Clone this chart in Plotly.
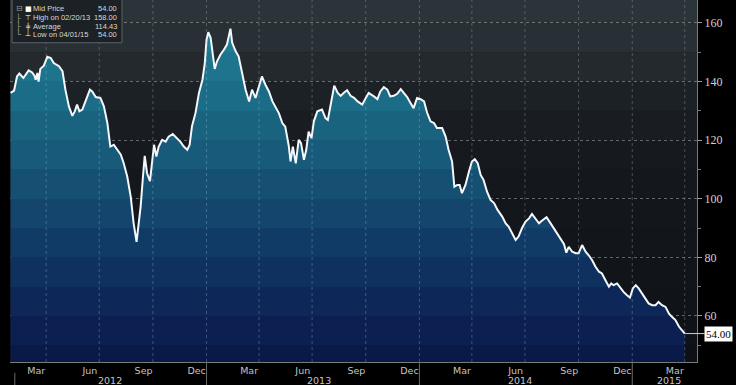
import plotly.graph_objects as go

# ---------------- data ----------------
dates = [
    "2012-01-31", "2012-02-06", "2012-02-11", "2012-02-15", "2012-02-22", "2012-03-02", "2012-03-08",
    "2012-03-12", "2012-03-14", "2012-03-17", "2012-03-19", "2012-03-22", "2012-03-28", "2012-04-03",
    "2012-04-09", "2012-04-14", "2012-04-23", "2012-04-29", "2012-05-04", "2012-05-10", "2012-05-16",
    "2012-05-20", "2012-05-24", "2012-05-28", "2012-06-02", "2012-06-08", "2012-06-15", "2012-06-19",
    "2012-06-25", "2012-07-03", "2012-07-09", "2012-07-15", "2012-07-20", "2012-07-26", "2012-08-01",
    "2012-08-07", "2012-08-12", "2012-08-18", "2012-08-24", "2012-08-29", "2012-09-03", "2012-09-07",
    "2012-09-10", "2012-09-14", "2012-09-17", "2012-09-21", "2012-09-26", "2012-10-03", "2012-10-07",
    "2012-10-11", "2012-10-17", "2012-10-23", "2012-10-28", "2012-11-04", "2012-11-12", "2012-11-17",
    "2012-11-23", "2012-11-29", "2012-12-03", "2012-12-07", "2012-12-13", "2012-12-19", "2012-12-25",
    "2012-12-29", "2013-01-01", "2013-01-04", "2013-01-08", "2013-01-12", "2013-01-15", "2013-01-19",
    "2013-01-25", "2013-01-31", "2013-02-05", "2013-02-11", "2013-02-14", "2013-02-20", "2013-02-25",
    "2013-03-03", "2013-03-09", "2013-03-15", "2013-03-20", "2013-03-26", "2013-04-01", "2013-04-06",
    "2013-04-12", "2013-04-18", "2013-04-24", "2013-04-29", "2013-05-05", "2013-05-11", "2013-05-16",
    "2013-05-22", "2013-05-25", "2013-05-29", "2013-06-03", "2013-06-08", "2013-06-12", "2013-06-17",
    "2013-06-21", "2013-06-25", "2013-06-30", "2013-07-04", "2013-07-10", "2013-07-18", "2013-07-24",
    "2013-07-28", "2013-08-03", "2013-08-08", "2013-08-14", "2013-08-19", "2013-08-24", "2013-08-30",
    "2013-09-05", "2013-09-11", "2013-09-17", "2013-09-25", "2013-10-01", "2013-10-06", "2013-10-15",
    "2013-10-21", "2013-10-26", "2013-11-01", "2013-11-07", "2013-11-12", "2013-11-18", "2013-11-24",
    "2013-11-30", "2013-12-05", "2013-12-11", "2013-12-17", "2013-12-22", "2013-12-28", "2014-01-03",
    "2014-01-09", "2014-01-14", "2014-01-20", "2014-01-26", "2014-01-31", "2014-02-09", "2014-02-15",
    "2014-02-20", "2014-02-26", "2014-03-02", "2014-03-07", "2014-03-11", "2014-03-15", "2014-03-21",
    "2014-03-27", "2014-04-01", "2014-04-06", "2014-04-11", "2014-04-16", "2014-04-21", "2014-04-27",
    "2014-05-03", "2014-05-09", "2014-05-15", "2014-05-23", "2014-05-29", "2014-06-03", "2014-06-09",
    "2014-06-15", "2014-06-20", "2014-06-26", "2014-07-02", "2014-07-08", "2014-07-13", "2014-07-19",
    "2014-07-25", "2014-07-30", "2014-08-07", "2014-08-14", "2014-08-19", "2014-08-25", "2014-08-31",
    "2014-09-06", "2014-09-10", "2014-09-14", "2014-09-20", "2014-09-26", "2014-10-01", "2014-10-07",
    "2014-10-13", "2014-10-18", "2014-10-24", "2014-10-30", "2014-11-05", "2014-11-10", "2014-11-16",
    "2014-11-22", "2014-11-26", "2014-11-30", "2014-12-06", "2014-12-12", "2014-12-17", "2014-12-23",
    "2014-12-28", "2015-01-02", "2015-01-07", "2015-01-12", "2015-01-18", "2015-01-24", "2015-01-29",
    "2015-02-04", "2015-02-10", "2015-02-15", "2015-02-21", "2015-02-27", "2015-03-05", "2015-03-10",
    "2015-03-16", "2015-03-22", "2015-03-27", "2015-04-01",
]
prices = [
    136.1, 136.9, 141.7, 142.7, 141.2, 143.8, 143.1,
    142.0, 140.6, 142.9, 140.0, 144.3, 145.4, 148.4,
    148.0, 146.3, 145.2, 143.5, 137.2, 131.5, 128.3,
    129.8, 132.1, 129.8, 130.4, 133.8, 137.2, 136.6,
    134.7, 134.4, 131.5, 125.8, 117.8, 118.4, 116.7,
    115.0, 112.1, 107.6, 100.7, 91.6, 85.3, 92.8,
    97.3, 107.6, 114.6, 108.7, 106.0, 118.4, 114.4,
    117.8, 120.1, 119.5, 121.2, 122.1, 120.7, 119.5,
    117.8, 116.7, 118.4, 124.7, 129.2, 136.1, 140.6,
    146.3, 154.3, 156.8, 154.9, 147.5, 144.3, 146.9,
    149.2, 150.9, 152.6, 158.0, 153.2, 150.3, 148.6,
    142.9, 137.2, 133.2, 137.2, 134.4, 138.9, 141.7,
    138.9, 136.6, 133.2, 131.5, 129.2, 125.8, 124.6,
    118.0, 112.7, 117.8, 112.1, 120.1, 119.0, 113.3,
    116.7, 122.9, 120.7, 126.4, 129.8, 130.4, 127.5,
    126.9, 133.8, 138.6, 136.1, 135.1, 136.1, 137.0,
    135.1, 134.4, 133.2, 132.1, 134.4, 136.1, 134.9,
    134.0, 136.6, 138.1, 137.2, 134.9, 135.1, 135.8,
    137.4, 136.1, 134.7, 132.6, 130.9, 134.4, 134.0,
    133.2, 129.5, 126.4, 125.8, 124.1, 124.1, 121.2,
    116.7, 112.7, 104.1, 104.7, 104.7, 101.9, 104.7,
    109.3, 112.7, 113.5, 112.1, 108.1, 106.4, 102.4,
    99.6, 98.5, 96.2, 93.9, 91.6, 90.5, 88.2,
    85.9, 87.1, 90.0, 92.2, 93.3, 94.8, 93.3,
    91.6, 92.5, 93.7, 91.6, 90.0, 88.2, 86.5,
    84.5, 81.6, 83.6, 81.9, 81.4, 81.4, 84.2,
    81.9, 80.8, 79.1, 76.8, 75.1, 74.5, 72.2,
    70.0, 71.1, 70.5, 71.1, 69.4, 68.2, 67.1,
    66.3, 69.4, 70.5, 69.4, 67.7, 66.0, 64.3,
    63.7, 63.7, 64.8, 63.7, 63.1, 60.8, 59.7,
    58.6, 56.4, 55.0, 54.0,
]

legend_labels = ["Mid Price", "High on 02/20/13", "Average", "Low on 04/01/15"]
legend_values = ["54.00", "158.00", "114.43", "54.00"]
last_label = "54.00"

y_ticks = [60, 80, 100, 120, 140, 160]
y_minor_ticks = [50, 70, 90, 110, 130, 150]
x_tick_dates = ["2012-03-15", "2012-06-15", "2012-09-15", "2012-12-15",
                "2013-03-15", "2013-06-15", "2013-09-15", "2013-12-15",
                "2014-03-15", "2014-06-15", "2014-09-15", "2014-12-15",
                "2015-03-15"]
x_tick_text = ["Mar", "Jun", "Sep", "Dec"] * 3 + ["Mar"]
quarter_starts = ["2012-04-01", "2012-07-01", "2012-10-01", "2013-01-01",
                  "2013-04-01", "2013-07-01", "2013-10-01", "2014-01-01",
                  "2014-04-01", "2014-07-01", "2014-10-01", "2015-01-01",
                  "2015-04-01"]
year_labels = ["2012", "2013", "2014", "2015"]
year_label_dates = ["2012-07-20", "2013-07-12", "2014-06-23", "2015-03-05"]
year_starts = ["2013-01-01", "2014-01-01", "2015-01-01"]

# ---------------- style ----------------
Y0, Y1 = 44.3, 167.8
X0, X1 = "2012-01-30", "2015-04-22"

band_edges = [Y0, 50, 60, 70, 80, 90, 100, 110, 120, 130, 140, 150, 160, Y1]
fill_cols = ["#0a1a48", "#0b2050", "#0d2858", "#0f3160", "#113b67", "#13456d",
             "#155073", "#175a79", "#19637f", "#1b6c86", "#1d748c", "#207c92", "#238398"]
bg_cols = ["#0d1014", "#0f1216", "#101317", "#111418", "#121519", "#13161b",
           "#14181c", "#161a1e", "#191d21", "#1c2125", "#23292d", "#283035", "#2b3439"]

cs = []
span = Y1 - Y0
for i, c in enumerate(fill_cols):
    cs.append([(band_edges[i] - Y0) / span, c])
    cs.append([(band_edges[i + 1] - Y0) / span, c])
cs[0][0] = 0.0
cs[-1][0] = 1.0

fig = go.Figure()
fig.add_trace(go.Scatter(
    x=dates, y=prices, mode="lines",
    line=dict(color="#f4f8fc", width=2),
    fill="tozeroy",
    fillgradient=dict(type="vertical", colorscale=cs, start=Y0, stop=Y1),
    hoverinfo="skip", showlegend=False,
))

shapes = []
for i, c in enumerate(bg_cols):
    shapes.append(dict(type="rect", xref="paper", yref="y", x0=0, x1=1,
                       y0=band_edges[i], y1=band_edges[i + 1],
                       fillcolor=c, line_width=0, layer="below"))
# vertical quarter grid lines (visible through the fill, as in the reference)
for d in quarter_starts:
    shapes.append(dict(type="line", xref="x", yref="paper", x0=d, x1=d, y0=0, y1=1,
                       line=dict(color="rgba(190,200,210,0.3)", width=1, dash="dot"),
                       layer="above"))
# year separators under the axis
for d in year_starts:
    shapes.append(dict(type="line", xref="x", yref="paper", x0=d, x1=d, y0=0, y1=-0.07,
                       line=dict(color="#6b6b6b", width=1)))
shapes.append(dict(type="line", xref="paper", yref="paper", x0=0.007, x1=0.007, y0=-0.03, y1=-0.07,
                   line=dict(color="#6b6b6b", width=1)))
# legend box
shapes.append(dict(type="rect", xref="paper", yref="paper", x0=0.003, x1=0.163, y0=0.882, y1=1.005,
                   fillcolor="#1b2125", line=dict(color="#5c6266", width=1), layer="above"))

annotations = []
row_y = [9, 17.5, 26, 34.5]
icons = ["■", "⊤", "╪", "⊥"]
tree = ["⊟", "├", "├", "└"]
for i in range(4):
    py = 1 - row_y[i] / 362
    annotations.append(dict(xref="paper", yref="paper", x=0.006, y=py, text=tree[i],
                            showarrow=False, xanchor="left", yanchor="middle",
                            font=dict(family="DejaVu Sans", size=8, color="#9a9a9a")))
    annotations.append(dict(xref="paper", yref="paper", x=0.0195, y=py, text=icons[i],
                            showarrow=False, xanchor="left", yanchor="middle",
                            font=dict(family="DejaVu Sans", size=7, color="#ffffff")))
    annotations.append(dict(xref="paper", yref="paper", x=0.0305, y=py, text=legend_labels[i],
                            showarrow=False, xanchor="left", yanchor="middle",
                            font=dict(family="Liberation Sans Narrow, Liberation Sans", size=7.5,
                                      color="#d8d8d8")))
    annotations.append(dict(xref="paper", yref="paper", x=0.159, y=py, text=legend_values[i],
                            showarrow=False, xanchor="right", yanchor="middle",
                            font=dict(family="Liberation Sans Narrow, Liberation Sans", size=7.5,
                                      color="#d8d8d8")))
for t, d in zip(year_labels, year_label_dates):
    annotations.append(dict(xref="x", yref="paper", x=d, y=0, yshift=-11, text=t,
                            showarrow=False, xanchor="center", yanchor="top",
                            font=dict(family="DejaVu Sans", size=9.5, color="#c4c4c4")))
annotations.append(dict(x=dates[-1], y=prices[-1], xref="x", yref="y", text=last_label,
                        showarrow=True, arrowhead=0, arrowwidth=1, arrowcolor="#d0d0d0",
                        ax=34, ay=0, bgcolor="#ffffff", borderpad=1,
                        font=dict(family="Liberation Serif", size=11, color="#000000")))

fig.update_layout(
    width=736, height=385,
    margin=dict(l=10, r=39, t=0, b=23),
    paper_bgcolor="#000000", plot_bgcolor="#111418",
    shapes=shapes, annotations=annotations,
    showlegend=False,
    xaxis=dict(
        type="date", range=[X0, X1],
        tickmode="array", tickvals=x_tick_dates, ticktext=x_tick_text,
        ticks="", showgrid=False,
        tickfont=dict(family="DejaVu Sans", size=9.5, color="#c4c4c4"),
        showline=True, linecolor="#7a7a7a", linewidth=1,
        zeroline=False, fixedrange=True,
    ),
    yaxis=dict(
        side="right", range=[Y0, Y1],
        tickmode="array", tickvals=y_ticks,
        ticks="outside", ticklen=4, tickcolor="#9a9a9a",
        tickfont=dict(family="Liberation Serif", size=12, color="#d0d0d0"),
        showgrid=True, gridcolor="rgba(200,200,200,0.45)", griddash="dot", gridwidth=1,
        minor=dict(tickmode="array", tickvals=y_minor_ticks,
                   ticks="outside", ticklen=3, tickcolor="#7a7a7a"),
        showline=True, linecolor="#7a7a7a", linewidth=1,
        zeroline=False, fixedrange=True,
    ),
)

fig.write_html("out.html",
               config={"displayModeBar": False},
               post_script="document.body.style.margin='0';document.body.style.padding='0';")
